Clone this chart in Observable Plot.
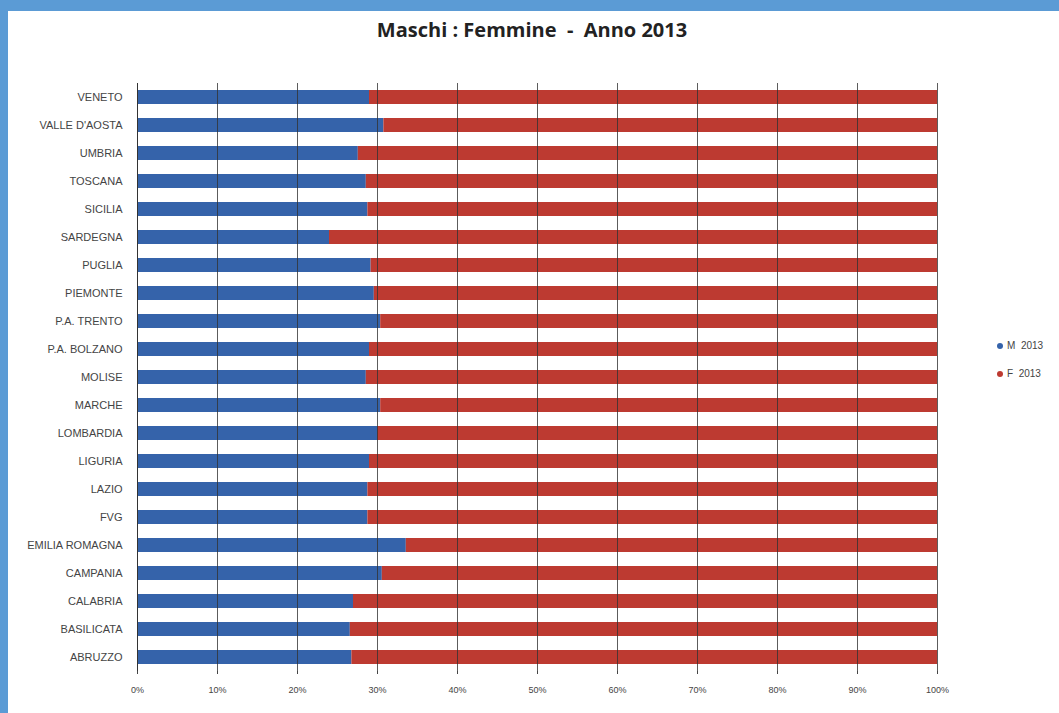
<!DOCTYPE html>
<html>
<head>
<meta charset="utf-8">
<script src="https://cdn.jsdelivr.net/npm/d3@7"></script>
<script src="https://cdn.jsdelivr.net/npm/@observablehq/plot@0.6"></script>
<style>
  html, body { margin: 0; padding: 0; background: #fff; }
  #frame { position: absolute; left: 0; top: 0; width: 1059px; height: 713px; box-sizing: border-box;
           border-top: 11px solid #5b9bd5; border-left: 8px solid #5b9bd5; overflow: hidden; }
  #title { position: absolute; top: 16px; left: 0; width: 1064px; text-align: center;
           font-family: "Open Sans", sans-serif; font-weight: 700; font-size: 20px; color: #222; white-space: pre; }
  #chart { position: absolute; top: 60px; left: 0; }
  #legend { position: absolute; left: 997px; top: 340px; font-family: "Liberation Sans", sans-serif; font-size: 10px; color: #444; }
  #legend div { height: 28px; white-space: pre; }
  #legend span.dot { display: inline-block; width: 6px; height: 6px; border-radius: 50%; margin-right: 4px; vertical-align: middle; }
</style>
</head>
<body>
<div id="title">Maschi : Femmine  -  Anno 2013</div>
<div id="chart"></div>
<div id="legend"></div>
<div id="frame"></div>
<script>
const regions = ["VENETO","VALLE D'AOSTA","UMBRIA","TOSCANA","SICILIA","SARDEGNA","PUGLIA","PIEMONTE","P.A. TRENTO","P.A. BOLZANO","MOLISE","MARCHE","LOMBARDIA","LIGURIA","LAZIO","FVG","EMILIA ROMAGNA","CAMPANIA","CALABRIA","BASILICATA","ABRUZZO"];
const maschi = [29.0, 30.8, 27.6, 28.6, 28.8, 24.0, 29.2, 29.6, 30.4, 29.0, 28.6, 30.4, 30.0, 29.0, 28.8, 28.8, 33.6, 30.6, 27.0, 26.6, 26.8];
const femmine = maschi.map(m => 100 - m);
const sexes = ["M", "F"];
const colors = ["#3563aa", "#bd3a31"];
const legendLabels = ["M  2013", "F  2013"];
const xTicks = [0,10,20,30,40,50,60,70,80,90,100];

const data = [];
regions.forEach((r, i) => {
  data.push({region: r, sex: "M", value: maschi[i]});
  data.push({region: r, sex: "F", value: femmine[i]});
});

const chart = Plot.plot({
  width: 1059,
  height: 653,
  marginLeft: 137,
  marginRight: 122,
  marginTop: 23,
  marginBottom: 42,
  style: {fontFamily: "Liberation Sans, sans-serif", background: "transparent"},
  x: {domain: [0, 100], ticks: xTicks, tickFormat: d => d + "%"},
  y: {domain: regions, paddingInner: 0.5, paddingOuter: 0.25},
  color: {domain: sexes, range: colors},
  marks: [
    Plot.barX(data, {x: "value", y: "region", fill: "sex", order: sexes}),
    Plot.gridX(xTicks, {stroke: "#333", strokeOpacity: 0.8, strokeWidth: 1}),
    Plot.ruleX([0], {stroke: "#333"}),
    Plot.axisX({ticks: xTicks, tickFormat: d => d + "%", tickSize: 3, tickPadding: 12, fontSize: 9, color: "#444", label: null}),
    Plot.axisY({tickSize: 0, tickPadding: 15, fontSize: 11, color: "#444", label: null})
  ]
});
document.getElementById("chart").appendChild(chart);

const legend = document.getElementById("legend");
sexes.forEach((s, i) => {
  const row = document.createElement("div");
  row.innerHTML = `<span class="dot" style="background:${colors[i]}"></span>${legendLabels[i]}`;
  legend.appendChild(row);
});
</script>
</body>
</html>
